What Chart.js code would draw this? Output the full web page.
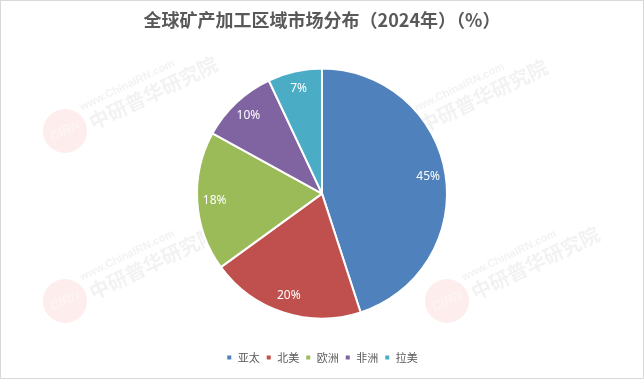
<!DOCTYPE html>
<html>
<head>
<meta charset="utf-8">
<script src="https://cdn.jsdelivr.net/npm/chart.js@4"></script>
<style>
  html, body { margin: 0; padding: 0; background: #fff; }
  .wrap { position: relative; width: 642px; height: 377px; border: 1px solid #d9d9d9; }
</style>
</head>
<body>
<div class="wrap"><canvas id="pieChart" width="642" height="377"></canvas></div>
<script>
// data
const regions = ['亚太', '北美', '欧洲', '非洲', '拉美'];
const shares = [45, 20, 18, 10, 7];
const sliceColors = ['#4F81BD', '#C0504D', '#9BBB59', '#8064A2', '#4BACC6'];

// faint site watermarks behind the pie
const watermark = {
  id: 'watermark',
  beforeDraw(chart) {
    const ctx = chart.ctx;
    const spots = [[64, 130], [394, 133], [64, 300], [446, 300]];
    ctx.save();
    spots.forEach(([x, y]) => {
      ctx.save();
      ctx.translate(x, y);
      ctx.globalAlpha = 0.1;
      ctx.fillStyle = '#e8504f';
      ctx.beginPath();
      ctx.arc(0, 0, 22, 0, Math.PI * 2);
      ctx.fill();
      ctx.globalAlpha = 0.35;
      ctx.rotate(-0.45);
      ctx.fillStyle = '#fff';
      ctx.font = 'bold italic 13px "Liberation Sans"';
      ctx.textAlign = 'center';
      ctx.textBaseline = 'middle';
      ctx.fillText('CIRN', 0, 0);
      ctx.globalAlpha = 0.11;
      ctx.fillStyle = '#888';
      ctx.font = 'bold 11px "Liberation Sans"';
      ctx.textAlign = 'left';
      ctx.fillText('www.ChinaIRN.com', 24, -14);
      ctx.font = 'bold 20px "Noto Sans CJK SC"';
      ctx.fillText('中研普华研究院', 26, 4);
      ctx.restore();
    });
    ctx.restore();
  }
};

// percentage labels inside each slice
const sliceLabels = {
  id: 'sliceLabels',
  afterDatasetsDraw(chart) {
    const ctx = chart.ctx;
    const meta = chart.getDatasetMeta(0);
    ctx.save();
    ctx.fillStyle = '#fff';
    ctx.font = '12px "Noto Sans"';
    ctx.textAlign = 'center';
    ctx.textBaseline = 'middle';
    meta.data.forEach((arc, i) => {
      const p = arc.getProps(['x', 'y', 'startAngle', 'endAngle', 'outerRadius'], true);
      const mid = (p.startAngle + p.endAngle) / 2;
      const r = p.outerRadius * 0.86;
      ctx.fillText(shares[i] + '%', p.x + Math.cos(mid) * r, p.y + Math.sin(mid) * r);
    });
    ctx.restore();
  }
};

new Chart(document.getElementById('pieChart'), {
  type: 'pie',
  data: {
    labels: regions,
    datasets: [{
      data: shares,
      backgroundColor: sliceColors,
      borderColor: '#fff',
      borderWidth: 2
    }]
  },
  options: {
    responsive: false,
    animation: false,
    layout: { padding: { top: 0, bottom: 5 } },
    plugins: {
      title: {
        display: true,
        text: '全球矿产加工区域市场分布（2024年）（%）',
        color: '#595959',
        font: { family: '"Noto Sans CJK SC"', size: 18, weight: 'bold' },
        padding: { top: 8, bottom: 37 }
      },
      legend: {
        position: 'bottom',
        title: {
          display: true,
          text: ' ',
          font: { size: 12 },
          padding: { top: 12, bottom: 0 }
        },
        labels: {
          color: '#595959',
          font: { family: '"Noto Sans CJK SC"', size: 11 },
          boxWidth: 6,
          boxHeight: 6,
          padding: 6
        }
      },
      tooltip: { enabled: false }
    }
  },
  plugins: [watermark, sliceLabels]
});
</script>
</body>
</html>
